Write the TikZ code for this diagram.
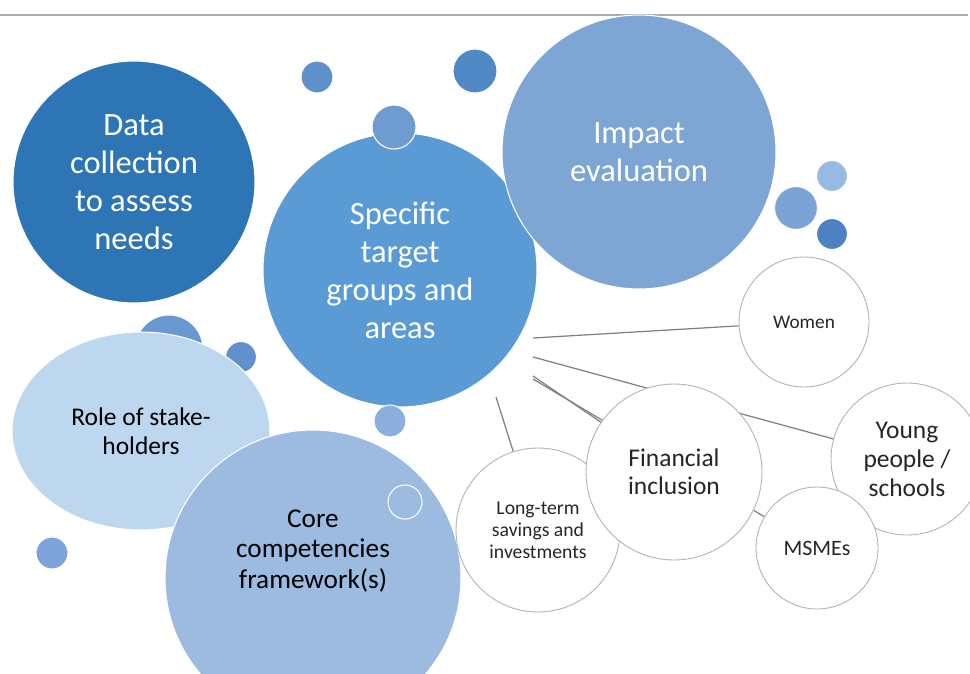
\documentclass[tikz,border=0pt]{standalone}
\usepackage{fontspec}
\setmainfont{Carlito}
\usetikzlibrary{shapes.geometric,backgrounds}

\definecolor{bluedark}{RGB}{46,117,182}
\definecolor{bluemid}{RGB}{91,155,213}
\definecolor{bluesoft}{RGB}{126,166,212}
\definecolor{bluepale}{RGB}{189,215,238}
\definecolor{bluecore}{RGB}{157,187,225}
\definecolor{txtgray}{RGB}{38,38,38}

\begin{document}
\begin{tikzpicture}[x=0.02cm,y=-0.02cm,
		bubble/.style={circle,draw=white,line width=0.6pt,inner sep=0pt,text=white,align=center,font=\fontsize{18.5}{21.6}\selectfont},
		dot/.style={circle,draw=white,line width=0.6pt,inner sep=0pt},
		topic/.style={circle,draw=gray!60,line width=0.5pt,fill=white,inner sep=0pt,align=center,text=txtgray},
		link/.style={draw=gray,line width=0.7pt}]
		\useasboundingbox (0,0) rectangle (970,673);
		\clip (0,0) rectangle (970,673);
		\begin{scope}[on background layer]
			\fill[white] (0,0) rectangle (970,673);
		\end{scope}
		
		\draw[gray!65, line width=0.9pt] (0,15) -- (968,15);
		
		% small bubbles at the back
		\node[dot, fill={rgb,255:red,93;green,144;blue,205}, minimum size=0.64cm] (d2) at (317,77) {};
		\node[dot, fill={rgb,255:red,80;green,137;blue,197}, minimum size=0.88cm] (d3) at (475,71) {};
		
		% big bubbles
		\node[bubble, fill=bluedark, minimum size=4.84cm] (data) at (134,182) {Data\\collection\\to assess\\needs};
		\node[bubble, fill=bluemid, minimum size=5.48cm] (spec) at (400,270) {Specific\\target\\groups and\\areas};
		\node[dot, fill={rgb,255:red,110;green,155;blue,208}, minimum size=0.88cm] (d1) at (394,127) {};
		\node[bubble, fill=bluesoft, minimum size=5.48cm] (impact) at (639,152) {Impact\\evaluation};
		
		\node[dot, fill={rgb,255:red,123;green,163;blue,214}, minimum size=0.86cm] (d4) at (796,208) {};
		\node[dot, fill={rgb,255:red,150;green,186;blue,226}, minimum size=0.62cm] (d5) at (832,176) {};
		\node[dot, fill={rgb,255:red,76;green,130;blue,195}, minimum size=0.62cm] (d6) at (832,234) {};
		\node[dot, fill={rgb,255:red,104;green,152;blue,210}, minimum size=1.36cm] (d7) at (169,349) {};
		\node[dot, fill={rgb,255:red,96;green,145;blue,205}, minimum size=0.62cm] (d8) at (241,357) {};
		
		\node[ellipse, draw=white, line width=0.6pt, fill=bluepale, inner sep=0pt, minimum width=5.16cm, minimum height=3.96cm, align=center, text=black, font=\fontsize{14.5}{16.8}\selectfont] (role) at (141,431) {Role of stake-\\holders};
		
		\node[dot, fill={rgb,255:red,140;green,176;blue,222}, minimum size=0.64cm] (d9) at (390,421) {};
		\node[dot, fill={rgb,255:red,124;green,164;blue,218}, minimum size=0.64cm] (d10) at (52,553) {};
		
		\node[dot, fill=bluecore, minimum size=5.92cm] (core) at (313,578) {};
		\node[align=center, text=black, font=\fontsize{15.5}{17.6}\selectfont] (coretext) at (313,551) {Core\\competencies\\framework(s)};
		\node[dot, minimum size=0.68cm] (ring) at (405,502) {};
		
		% white topic circles
		\node[topic, minimum size=2.6cm, font=\fontsize{11}{13}\selectfont] (women) at (804,322) {Women};
		\node[topic, minimum size=3.04cm, font=\fontsize{14.5}{16.5}\selectfont] (young) at (907,459) {Young\\people /\\schools};
		\node[topic, minimum size=3.28cm, font=\fontsize{11.2}{12.6}\selectfont] (lts) at (538,530) {Long-term\\savings and\\investments};
		\node[topic, minimum size=3.52cm, font=\fontsize{14.5}{16}\selectfont] (fin) at (674,472) {Financial\\inclusion};
		\node[topic, minimum size=2.44cm, font=\fontsize{12.5}{14}\selectfont] (msme) at (817,548) {MSMEs};
		
		\coordinate (s1) at (533,338);
		\coordinate (s2) at (533,357);
		\coordinate (s3) at (533,376);
		\coordinate (s4) at (533,379);
		\coordinate (s5) at (496,397);
		
		\begin{scope}[on background layer]
			\draw[link] (s1) -- (women);
			\draw[link] (s2) -- (young);
			\draw[link] (s3) -- (fin);
			\draw[link] (s4) -- (msme);
			\draw[link] (s5) -- (lts);
		\end{scope}
	\end{tikzpicture}
\end{document}
